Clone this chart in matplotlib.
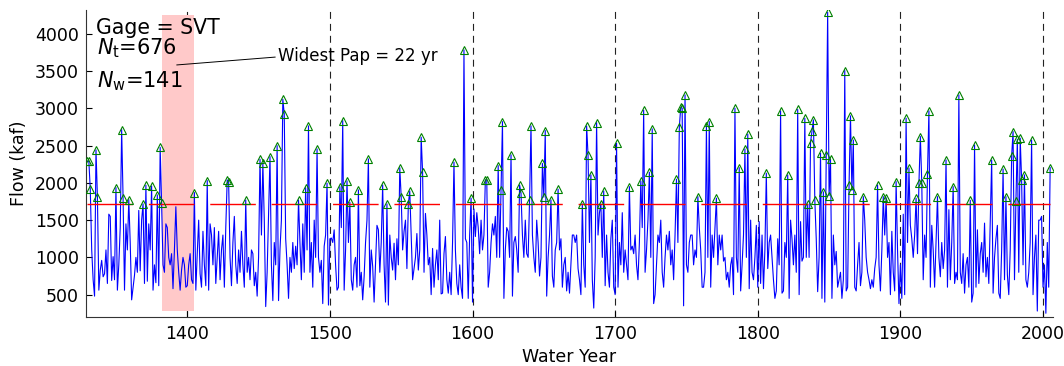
import numpy as np
import matplotlib
matplotlib.use('Agg')
import matplotlib.pyplot as plt

# ---------------- data ----------------
gage = 'SVT'
start_year = 1330
threshold = 1714          # kaf, red line
n_total_label = 676
n_wet_label = 141

flow = [
    2290, 2290, 1915, 1100, 700, 480, 2443, 1816, 560, 830,      # 1330
    960, 740, 780, 1100, 650, 1580, 1550, 690, 1010, 700,        # 1340
    1937, 560, 900, 1400, 2716, 1795, 560, 1450, 1100, 1776,     # 1350
    1200, 430, 600, 760, 1000, 800, 1630, 820, 1500, 1718,       # 1360
    650, 1969, 680, 1450, 1100, 1959, 560, 900, 660, 1839,       # 1370
    620, 2477, 1730, 900, 800, 1450, 1400, 1000, 900, 1050,      # 1380
    580, 1100, 1680, 1100, 800, 560, 830, 1000, 900, 600,        # 1390
    620, 900, 1050, 700, 650, 1870, 560, 1050, 1500, 780,        # 1400
    600, 1350, 900, 620, 2031, 560, 1450, 1300, 900, 1400,       # 1410
    650, 1000, 1350, 700, 1100, 1300, 600, 1400, 2040, 2017,     # 1420
    1000, 620, 1200, 1550, 900, 650, 1100, 800, 1350, 900,       # 1430
    600, 1771, 800, 1000, 700, 1100, 1050, 620, 800, 480,        # 1440
    1000, 2318, 1300, 2264, 1500, 340, 800, 1550, 2353, 900,     # 1450
    420, 1200, 900, 2500, 420, 1100, 1500, 3123, 2926, 1250,     # 1460
    900, 450, 1000, 800, 1200, 850, 1150, 900, 1771, 1200,       # 1470
    700, 1450, 800, 1937, 1100, 2765, 800, 1200, 600, 1500,      # 1480
    1000, 2456, 1000, 800, 960, 380, 1150, 1300, 1996, 360,      # 1490
    1250, 1260, 1200, 1370, 900, 560, 600, 1950, 1400, 2836,     # 1500
    560, 1100, 2027, 1200, 1741, 700, 560, 900, 1000, 600,       # 1510
    1906, 620, 800, 430, 740, 1200, 1500, 2322, 600, 1100,       # 1520
    880, 400, 900, 1430, 1370, 800, 1200, 1973, 900, 400,        # 1530
    1718, 360, 1300, 1000, 830, 1190, 700, 1250, 900, 2205,      # 1540
    1808, 1100, 1350, 1500, 850, 1718, 1892, 1300, 700, 850,     # 1550
    1000, 1320, 830, 1100, 2613, 2143, 800, 1590, 1300, 900,     # 1560
    1000, 500, 1120, 600, 900, 1100, 700, 1500, 510, 520,        # 1570
    1050, 1280, 700, 520, 800, 500, 1200, 2278, 1100, 650,       # 1580
    500, 900, 600, 450, 3785, 1250, 1200, 450, 1300, 1795,       # 1590
    400, 1650, 1280, 1600, 1400, 1050, 1500, 1100, 1300, 2040,   # 1600
    2040, 600, 800, 1200, 1450, 1300, 1550, 1000, 2232, 1000,    # 1610
    1906, 2822, 450, 1100, 1400, 1350, 1000, 2376, 480, 1200,    # 1620
    1280, 1100, 800, 1973, 1861, 1300, 1000, 1500, 1050, 1000,   # 1630
    1771, 2765, 1300, 1000, 800, 1500, 1200, 750, 1000, 2261,    # 1640
    1808, 2702, 480, 1000, 1300, 1771, 750, 600, 1100, 1200,     # 1650
    1915, 1100, 1250, 600, 900, 1000, 550, 800, 520, 900,        # 1660
    1300, 1300, 1200, 1300, 850, 700, 500, 1718, 900, 600,       # 1670
    2765, 2376, 1200, 2107, 700, 320, 1000, 2809, 1300, 1600,    # 1680
    1718, 1000, 1892, 620, 1300, 800, 600, 1250, 1500, 600,      # 1690
    500, 2533, 600, 1200, 900, 1600, 800, 1100, 900, 700,        # 1700
    1950, 1100, 1150, 1050, 1300, 900, 700, 1200, 2027, 1400,    # 1710
    2977, 800, 1100, 1500, 2143, 1000, 2725, 380, 500, 900,      # 1720
    1300, 1200, 1500, 800, 600, 1000, 1300, 1100, 1350, 900,     # 1730
    1100, 700, 1300, 2049, 1200, 2748, 3016, 3003, 350, 3181,    # 1740
    900, 800, 1200, 1300, 1300, 900, 1100, 1000, 1816, 1400,     # 1750
    1100, 600, 600, 800, 2765, 1000, 2823, 600, 1300, 1000,      # 1760
    1400, 1795, 900, 1300, 1100, 1300, 950, 1000, 700, 800,      # 1770
    600, 900, 1000, 500, 3003, 1000, 800, 2205, 550, 900,        # 1780
    1300, 2456, 1000, 2655, 580, 1500, 800, 700, 1000, 1430,     # 1790
    600, 1480, 650, 1300, 580, 1100, 2130, 850, 1200, 1300,      # 1800
    1000, 700, 450, 550, 1250, 900, 2967, 520, 550, 1200,        # 1810
    1000, 2107, 450, 1500, 1250, 900, 1300, 800, 2985, 500,      # 1820
    1480, 950, 1000, 2868, 1000, 1716, 1000, 2540, 2694, 2846,   # 1830
    1771, 1250, 540, 1000, 2399, 450, 1880, 400, 2376, 4290,     # 1840
    1830, 2320, 450, 1300, 900, 1080, 600, 700, 800, 450,        # 1850
    700, 3508, 550, 600, 1973, 2900, 1900, 2575, 600, 550,       # 1860
    900, 1200, 620, 800, 1816, 1500, 1000, 800, 700, 580,        # 1870
    700, 600, 850, 1000, 1973, 900, 550, 1100, 1816, 1300,       # 1880
    1800, 1000, 1200, 500, 1350, 800, 550, 2017, 1100, 380,      # 1890
    900, 450, 1580, 500, 2868, 1200, 2200, 1430, 1250, 1000,     # 1900
    1300, 1794, 1050, 1996, 2622, 1996, 700, 1300, 1000, 2125,   # 1910
    2967, 600, 1430, 1100, 600, 1200, 1816, 1000, 740, 1200,     # 1920
    850, 1100, 2308, 600, 1640, 700, 1200, 1950, 650, 800,       # 1930
    700, 3181, 800, 650, 1050, 520, 900, 1000, 600, 1766,        # 1940
    400, 520, 2510, 600, 1370, 650, 1050, 1200, 800, 1460,       # 1950
    740, 1000, 650, 1500, 2308, 520, 1000, 1250, 1430, 520,      # 1960
    450, 1100, 2185, 700, 1816, 770, 500, 1100, 2360, 2689,      # 1970
    700, 1753, 2585, 800, 2600, 2035, 900, 2107, 700, 600,       # 1980
    800, 1200, 2577, 500, 1000, 1300, 280, 1500, 1500, 1550,     # 1990
    600, 900, 250, 1200, 600, 2205,                              # 2000
]

x_ticks = [1400, 1500, 1600, 1700, 1800, 1900, 2000]
y_ticks = [500, 1000, 1500, 2000, 2500, 3000, 3500, 4000]
century_lines = [1400, 1500, 1600, 1700, 1800, 1900, 2000]

# ---------------- derived ----------------
flow = np.asarray(flow, dtype=float)
years = np.arange(start_year, start_year + len(flow))
wet = flow > threshold
wet_years = years[wet]
gaps = np.diff(wet_years) - 1
k = int(np.argmax(gaps))
pap_start, pap_end = wet_years[k], wet_years[k + 1]
pap_len = int(gaps[k])

# ---------------- figure ----------------
plt.rcParams['lines.scale_dashes'] = False
plt.rcParams['font.family'] = ['DejaVu Sans']
fig = plt.figure(figsize=(10.64, 3.66), dpi=100)
ax = fig.add_axes([86 / 1064, 49 / 366, 967 / 1064, 307 / 366])

for c in century_lines:
    ax.axvline(c, color='#222222', lw=0.8, linestyle=(0, (5.0, 3.6)), zorder=1)

ax.axvspan(pap_start + 0.5, pap_end - 0.5, ymin=0.02, ymax=0.984,
           color='#FFC9C9', lw=0, zorder=2)

ax.plot(years, flow, color='#0000FF', lw=0.8, zorder=3)
ax.plot([years[0], years[-1]], [threshold, threshold], color='red', lw=1.0,
        linestyle=(0, (32.8, 11.4)), zorder=4)
ax.plot(wet_years, flow[wet], linestyle='none', marker='^', ms=5.5,
        mfc='none', mec=(0, 0.5, 0), mew=0.8, zorder=5)

ax.set_xlim(1329, 2007)
ax.set_ylim(200, 4320)
ax.set_xticks(x_ticks)
ax.set_yticks(y_ticks)
ax.tick_params(direction='in', length=4, width=0.8, labelsize=12.5,
               top=False, right=False)
ax.tick_params(axis='x', pad=6)
ax.tick_params(axis='y', pad=5)
for s in ('top', 'right'):
    ax.spines[s].set_visible(False)
for s in ('left', 'bottom'):
    ax.spines[s].set_linewidth(0.8)
    ax.spines[s].set_color('#333333')

ax.set_xlabel('Water Year', fontsize=12.5, labelpad=3)
ax.set_ylabel('Flow (kaf)', fontsize=12.5, labelpad=5)

ax.text(0.0103, 0.922, f'Gage = {gage}', transform=ax.transAxes,
        fontsize=14.8, va='baseline', ha='left', zorder=6)
ax.text(0.0113, 0.857, r'$N_{\mathrm{t}}$=' + f'{n_total_label}',
        transform=ax.transAxes, fontsize=15, va='baseline', ha='left', zorder=6)
ax.text(0.0113, 0.749, r'$N_{\mathrm{w}}$=' + f'{n_wet_label}',
        transform=ax.transAxes, fontsize=15, va='baseline', ha='left', zorder=6)

ax.annotate(f'Widest Pap = {pap_len} yr', xy=(0.0938, 0.821), xycoords='axes fraction',
            xytext=(0.1986, 0.834), textcoords='axes fraction',
            fontsize=12, va='baseline', ha='left', zorder=6,
            arrowprops=dict(arrowstyle='-', lw=0.7, color='black',
                            shrinkA=0, shrinkB=0, relpos=(0, 0.45)))

fig.savefig('out.png', dpi=100)
